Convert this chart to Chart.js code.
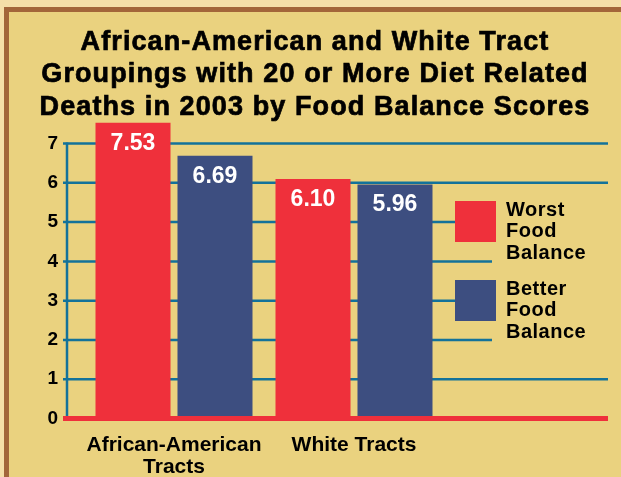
<!DOCTYPE html>
<html>
<head>
<meta charset="utf-8">
<script src="https://cdn.jsdelivr.net/npm/chart.js@4.4.0/dist/chart.umd.min.js"></script>
<style>
  html, body { margin: 0; padding: 0; background: #EAD27F; }
  #wrap { width: 621px; height: 477px; }
</style>
</head>
<body>
<div id="wrap"><canvas id="chart" width="621" height="477"></canvas></div>
<script>
  var titleLines = [
    'African-American and White Tract',
    'Groupings with 20 or More Diet Related',
    'Deaths in 2003 by Food Balance Scores'
  ];
  var categories = [['African-American', 'Tracts'], 'White Tracts'];
  var seriesNames = ['Worst Food Balance', 'Better Food Balance'];
  var worstValues = [7.53, 6.10];
  var betterValues = [6.69, 5.96];
  var yTicks = [0, 1, 2, 3, 4, 5, 6, 7];

  var colors = {
    red: '#EF303B',
    blue: '#3D4E80',
    grid: '#13729A',
    bg: '#EAD27F',
    frame: '#A3663A',
    outer: '#F5DFA8'
  };
  var FONT = "'Liberation Sans', Arial, sans-serif";
  Chart.defaults.font.family = FONT;

  // frame + background + title
  var backdrop = {
    id: 'backdrop',
    beforeDraw: function (chart) {
      var c = chart.ctx, w = chart.width, h = chart.height;
      c.save();
      c.fillStyle = colors.outer;
      c.fillRect(0, 0, w, h);
      c.fillStyle = colors.frame;
      c.fillRect(4, 7, w - 4, h - 7);
      c.fillStyle = colors.bg;
      c.fillRect(9, 12, w - 9, h - 12);
      c.fillStyle = '#000';
      c.strokeStyle = '#000';
      c.lineWidth = 0.7;
      c.font = 'bold 27px ' + FONT;
      c.letterSpacing = '1.1px';
      c.textAlign = 'center';
      c.textBaseline = 'alphabetic';
      titleLines.forEach(function (t, i) {
        c.fillText(t, 315, 49.5 + i * 32.5);
        c.strokeText(t, 315, 49.5 + i * 32.5);
      });
      c.restore();
    }
  };

  // teal grid, axis line
  var gridLines = {
    id: 'gridLines',
    beforeDatasetsDraw: function (chart) {
      var c = chart.ctx, ys = chart.scales.y;
      c.save();
      c.strokeStyle = colors.grid;
      c.lineWidth = 2.5;
      yTicks.forEach(function (v) {
        if (v === 0) return;
        var y = ys.getPixelForValue(v);
        c.beginPath();
        c.moveTo(63, y);
        c.lineTo(608, y);
        c.stroke();
      });
      c.beginPath();
      c.moveTo(67, ys.getPixelForValue(yTicks[yTicks.length - 1]) - 1);
      c.lineTo(67, ys.getPixelForValue(0));
      c.stroke();
      c.restore();
    }
  };

  // red base line, value labels, legend
  var extras = {
    id: 'extras',
    afterDatasetsDraw: function (chart) {
      var c = chart.ctx, ys = chart.scales.y;
      c.save();
      var y0 = ys.getPixelForValue(0);
      c.fillStyle = colors.red;
      c.fillRect(63, y0 - 2.5, 545, 5);

      c.fillStyle = '#fff';
      c.font = 'bold 23px ' + FONT;
      c.textAlign = 'center';
      c.textBaseline = 'alphabetic';
      chart.data.datasets.forEach(function (ds, di) {
        chart.getDatasetMeta(di).data.forEach(function (bar, i) {
          c.fillText(ds.data[i].toFixed(2), bar.x, bar.y + 27);
        });
      });

      c.fillStyle = colors.bg;
      c.fillRect(492, 190, 118, 158);
      chart.data.datasets.forEach(function (ds, di) {
        var top = 201 + di * 79;
        c.fillStyle = ds.backgroundColor;
        c.fillRect(455, top, 41, 41);
        c.fillStyle = '#000';
        c.font = 'bold 20px ' + FONT;
        c.letterSpacing = '0.5px';
        c.textAlign = 'left';
        ds.label.split(' ').forEach(function (word, k) {
          c.fillText(word, 506, top + 14.5 + k * 21.5);
        });
      });
      c.restore();
    }
  };

  var ctx = document.getElementById('chart').getContext('2d');
  window.dietChart = new Chart(ctx, {
    type: 'bar',
    data: {
      labels: categories,
      datasets: [
        { label: seriesNames[0], data: worstValues, backgroundColor: colors.red },
        { label: seriesNames[1], data: betterValues, backgroundColor: colors.blue }
      ]
    },
    options: {
      responsive: false,
      animation: false,
      categoryPercentage: 0.911,
      barPercentage: 0.915,
      layout: { padding: { top: 120, right: 177, bottom: 0, left: 0 } },
      plugins: {
        legend: { display: false },
        title: { display: false },
        tooltip: { enabled: false }
      },
      scales: {
        x: {
          grid: { display: false },
          border: { display: false },
          ticks: {
            color: '#000',
            padding: 8,
            maxRotation: 0,
            autoSkip: false,
            font: { size: 21, weight: 'bold', lineHeight: 1.03 }
          },
          afterFit: function (s) { s.height = 58.5; }
        },
        y: {
          min: 0,
          max: 7.6,
          grid: { display: false },
          border: { display: false },
          afterBuildTicks: function (s) {
            s.ticks = yTicks.map(function (v) { return { value: v }; });
          },
          ticks: {
            color: '#000',
            padding: 18,
            font: { size: 19, weight: 'bold' }
          },
          afterFit: function (s) { s.width = 84; }
        }
      }
    },
    plugins: [backdrop, gridLines, extras]
  });
</script>
</body>
</html>
